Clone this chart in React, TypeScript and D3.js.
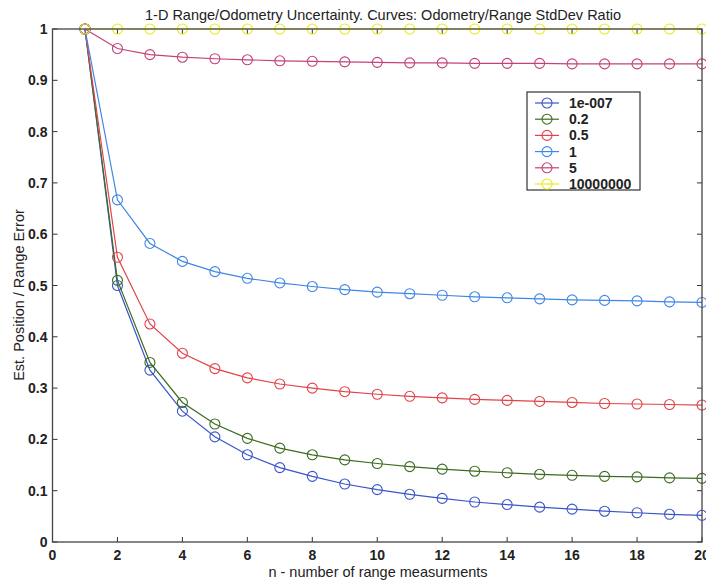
import React from "react";
import * as d3 from "d3";

const xs = [1, 2, 3, 4, 5, 6, 7, 8, 9, 10, 11, 12, 13, 14, 15, 16, 17, 18, 19, 20];
const seriesNames = ["1e-007", "0.2", "0.5", "1", "5", "10000000"];
const seriesColors = ["#3a55c8", "#3d6b22", "#e0444a", "#3f86e6", "#c2427a", "#eaea1c"];
const s1e7 = [1, 0.5, 0.335, 0.255, 0.205, 0.17, 0.145, 0.128, 0.113, 0.102, 0.093, 0.085, 0.078, 0.073, 0.068, 0.064, 0.06, 0.057, 0.054, 0.052];
const s02 = [1, 0.51, 0.35, 0.272, 0.23, 0.202, 0.183, 0.17, 0.16, 0.153, 0.147, 0.142, 0.138, 0.135, 0.132, 0.13, 0.128, 0.127, 0.125, 0.124];
const s05 = [1, 0.555, 0.425, 0.368, 0.338, 0.32, 0.308, 0.3, 0.293, 0.288, 0.284, 0.281, 0.278, 0.276, 0.274, 0.272, 0.27, 0.269, 0.268, 0.267];
const s1 = [1, 0.667, 0.582, 0.547, 0.527, 0.514, 0.505, 0.498, 0.492, 0.487, 0.484, 0.481, 0.478, 0.476, 0.474, 0.472, 0.471, 0.47, 0.468, 0.467];
const s5 = [1, 0.962, 0.95, 0.945, 0.942, 0.94, 0.938, 0.937, 0.936, 0.935, 0.934, 0.934, 0.933, 0.933, 0.933, 0.932, 0.932, 0.932, 0.932, 0.932];
const s1e8 = [1, 1, 1, 1, 1, 1, 1, 1, 1, 1, 1, 1, 1, 1, 1, 1, 1, 1, 1, 1];
const seriesValues = [s1e7, s02, s05, s1, s5, s1e8];
const xTicks = [0, 2, 4, 6, 8, 10, 12, 14, 16, 18, 20];
const yTicks = [0, 0.1, 0.2, 0.3, 0.4, 0.5, 0.6, 0.7, 0.8, 0.9, 1];
const title = "1-D Range/Odometry Uncertainty. Curves: Odometry/Range StdDev Ratio";
const xLabel = "n - number of range measurments";
const yLabel = "Est. Position / Range Error";

export default function App() {
  const W = 706, H = 584;
  const L = 52.5, R = 702, T = 29, B = 542;
  const x = d3.scaleLinear().domain([0, 20]).range([L, R]);
  const y = d3.scaleLinear().domain([0, 1]).range([B, T]);
  const line = d3.line<number>().x((_, i) => x(xs[i])).y((d) => y(d));
  const font = "'Liberation Sans', Arial, sans-serif";
  const tl = 5;
  const legX = 527, legY = 92, legW = 113, legH = 98;
  return (
    <svg width={W} height={H} style={{ position: "absolute", left: 0, top: 0, background: "#fff" }} fontFamily={font}>
      <rect x={0} y={0} width={W} height={H} fill="#fff" />
      <text x={383} y={20} fontSize={14.5} textAnchor="middle" fill="#222">{title}</text>
      {xTicks.map((t) => (
        <g key={"x" + t}>
          <line x1={x(t)} x2={x(t)} y1={B} y2={B - tl} stroke="#333" />
          <line x1={x(t)} x2={x(t)} y1={T} y2={T + tl} stroke="#333" />
          <text x={x(t)} y={B + 18} fontSize={14} fontWeight="bold" textAnchor="middle" fill="#222">{t}</text>
        </g>
      ))}
      {yTicks.map((t) => (
        <g key={"y" + t}>
          <line x1={L} x2={L + tl} y1={y(t)} y2={y(t)} stroke="#333" />
          <line x1={R} x2={R - tl} y1={y(t)} y2={y(t)} stroke="#333" />
          <text x={L - 5} y={y(t) + 5} fontSize={14} fontWeight="bold" textAnchor="end" fill="#222">{t === 0 || t === 1 ? String(t) : t.toFixed(1)}</text>
        </g>
      ))}
      <text x={378} y={577} fontSize={14.5} textAnchor="middle" fill="#222">{xLabel}</text>
      <text transform={`translate(24,295) rotate(-90)`} fontSize={14.5} textAnchor="middle" fill="#222">{yLabel}</text>
      {seriesValues.map((vals, si) => (
        <g key={"s" + si}>
          <path d={line(vals) || ""} fill="none" stroke={seriesColors[si]} strokeWidth={1.2} />
          {vals.map((v, i) => (
            <circle key={i} cx={x(xs[i])} cy={y(v)} r={5} fill="none" stroke={seriesColors[si]} strokeWidth={1.1} />
          ))}
        </g>
      ))}
      <rect x={L} y={T} width={R - L} height={B - T} fill="none" stroke="#444" strokeWidth={1.3} />
      <rect x={legX} y={legY} width={legW} height={legH} fill="#fff" stroke="#333" strokeWidth={1.2} />
      {seriesNames.map((n, i) => {
        const cy = legY + 11 + i * 16.2;
        return (
          <g key={"l" + i}>
            <line x1={legX + 8} x2={legX + 32} y1={cy} y2={cy} stroke={seriesColors[i]} strokeWidth={1.2} />
            <circle cx={legX + 20} cy={cy} r={5} fill="none" stroke={seriesColors[i]} strokeWidth={1.1} />
            <text x={legX + 42} y={cy + 5} fontSize={14} fontWeight="bold" fill="#222">{n}</text>
          </g>
        );
      })}
    </svg>
  );
}
